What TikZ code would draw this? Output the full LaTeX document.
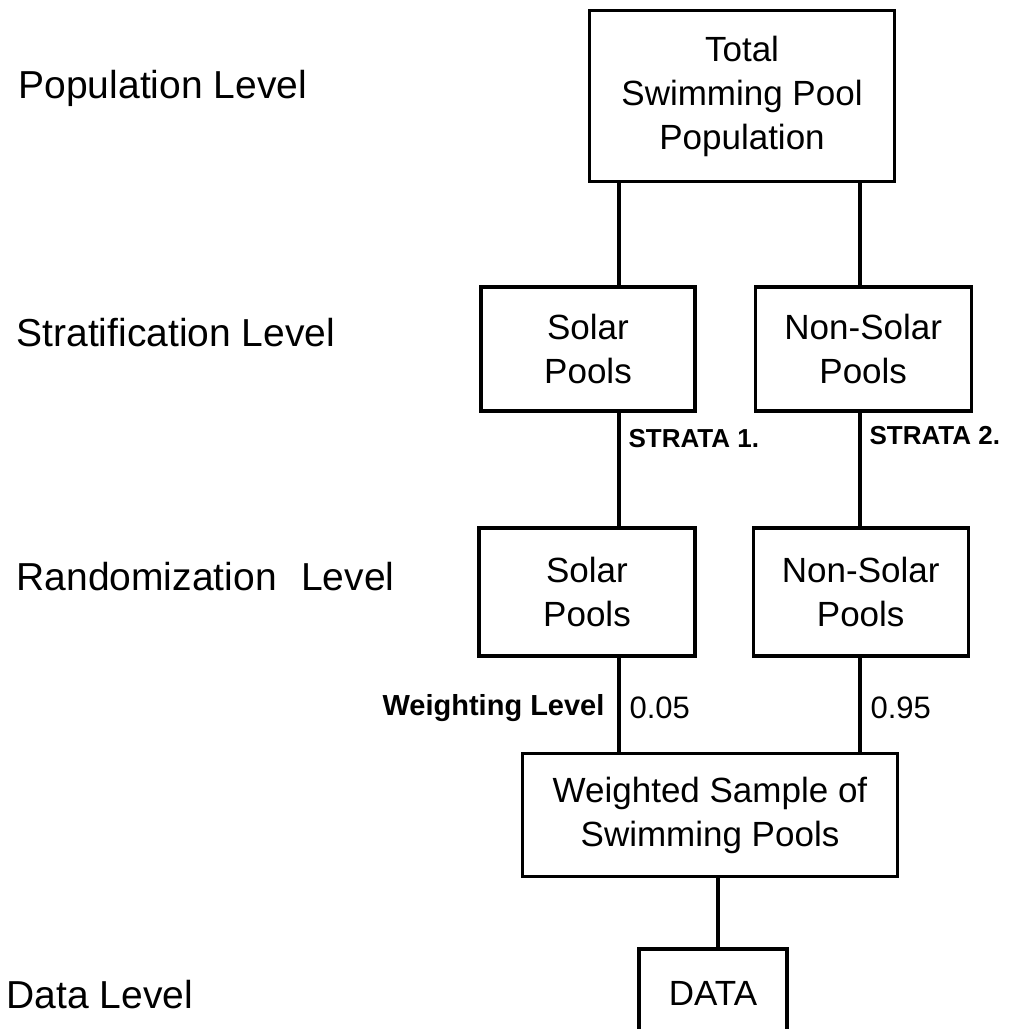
\documentclass[tikz,border=0pt]{standalone}
\usepackage{fontspec}
\setmainfont{Liberation Sans}
\usepackage{tikz}
\usetikzlibrary{arrows, shapes, positioning}

\newcommand{\boxfont}{\fontsize{35}{44}\selectfont}
\newcommand{\levelfont}{\fontsize{39}{47}\selectfont}
\newcommand{\tagfont}{\fontsize{26}{31}\selectfont\bfseries}
\newcommand{\weightfont}{\fontsize{31}{37}\selectfont}

\begin{document}
\begin{tikzpicture}[x=1pt, y=1pt, line width=3.2pt,
	pool/.style = {draw, rectangle, align=center, inner sep=0pt, font=\boxfont},
	level/.style = {anchor=west, inner sep=0pt, font=\levelfont},
	tag/.style = {anchor=west, inner sep=0pt, xshift=8pt, font=\tagfont},
	weight/.style = {anchor=west, inner sep=0pt, xshift=9pt, font=\weightfont}]
	\useasboundingbox (0,0) rectangle (1023,1029);
	\node [pool, minimum width=305pt, minimum height=171pt] (Total) at (742,933) {Total \\ Swimming Pool \\ Population};
	\node [pool, minimum width=214pt, minimum height=124pt] (SolarStrat) at (588,680) {Solar \\ Pools};
	\node [pool, minimum width=216pt, minimum height=124pt, right = 57pt of SolarStrat] (NonSolarStrat) {Non-Solar \\ Pools};
	\node [pool, minimum width=216pt, minimum height=128pt] (SolarRand) at (587,437) {Solar \\ Pools};
	\node [pool, minimum width=215pt, minimum height=128pt, right = 55pt of SolarRand] (NonSolarRand) {Non-Solar \\ Pools};
	\node [pool, minimum width=375pt, minimum height=123pt] (Weighted) at (710,214) {Weighted Sample of \\ Swimming Pools};
	\node [pool, minimum width=148pt, minimum height=88pt] (Data) at (713,36) {DATA};
	\node [level] (PopLevel) at (17,941) {Population Level};
	\node [level] (StratLevel) at (15,696) {Stratification Level};
	\node [level] (RandLevel) at (15,452) {Randomization\hspace{0.35em} Level};
	\node [level] (DataLevel) at (5,34) {Data Level};
	\coordinate (Left) at (619,0);
	\coordinate (Right) at (860,0);
	\coordinate (Middle) at (718,0);
	\draw (Total.south -| Left) -- (SolarStrat.north -| Left);
	\draw (Total.south -| Right) -- (NonSolarStrat.north -| Right);
	\draw (SolarStrat.south -| Left) -- (SolarRand.north -| Left) node [tag, pos=0.23] (Strata1) {STRATA 1.};
	\draw (NonSolarStrat.south -| Right) -- (NonSolarRand.north -| Right) node [tag, pos=0.2] (Strata2) {STRATA 2.};
	\draw (SolarRand.south -| Left) -- (Weighted.north -| Left) node [weight, pos=0.53] (Share1) {0.05}
		node [pos=0.53, anchor=east, inner sep=0pt, xshift=-13pt, font=\fontsize{29}{35}\selectfont\bfseries] (WeightLevel) {Weighting Level};
	\draw (NonSolarRand.south -| Right) -- (Weighted.north -| Right) node [weight, pos=0.53] (Share2) {0.95};
	\draw (Weighted.south -| Middle) -- (Data.north -| Middle);
\end{tikzpicture}
\end{document}
